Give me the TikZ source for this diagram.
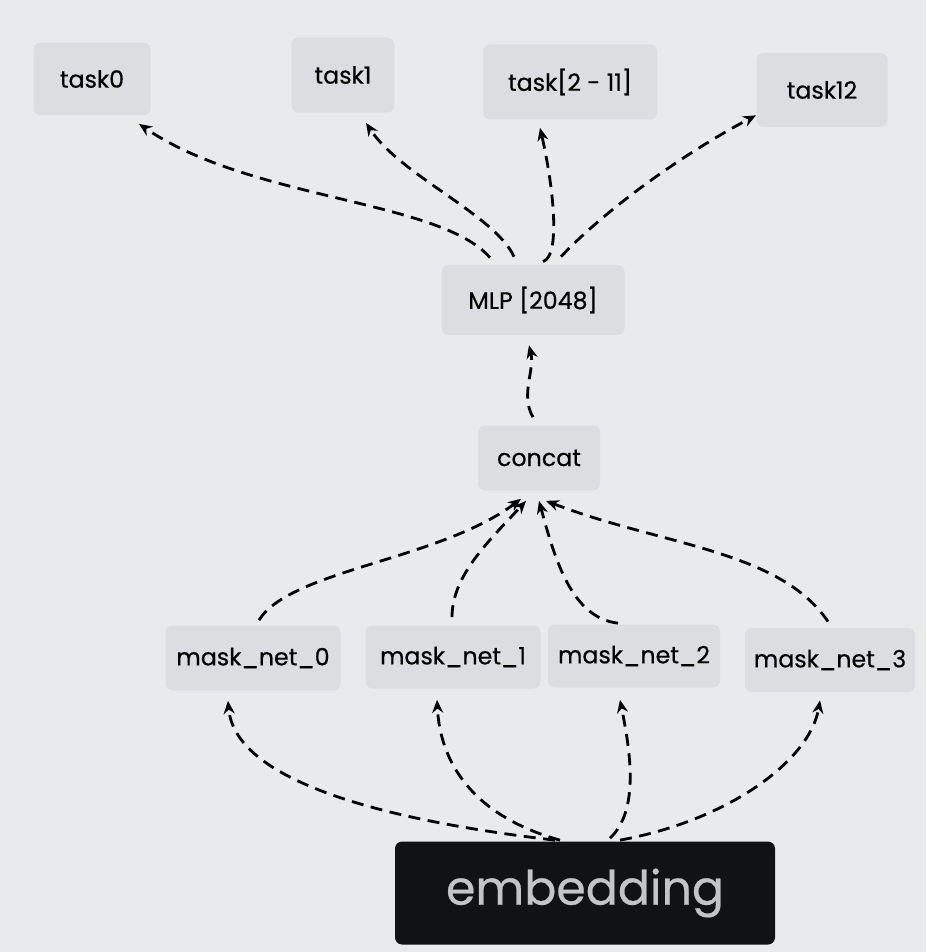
\documentclass[tikz,border=0pt]{standalone}
\usepackage{fontspec}
\setmainfont{Poppins}[UprightFeatures={FakeBold=0.5}]
\usepackage{tikz}
\usetikzlibrary{arrows.meta,positioning,calc}
\definecolor{screenbg}{RGB}{233,234,236}
\definecolor{softgrey}{RGB}{220,221,224}
\definecolor{darkbox}{RGB}{17,18,20}
\definecolor{paletext}{RGB}{196,196,198}

\begin{document}
\begin{tikzpicture}[
    x=0.02cm, y=-0.02cm,
    every node/.style={font=\fontsize{13.5}{16}\selectfont},
    box/.style={fill=softgrey, rounded corners=4pt, inner sep=0pt, align=center},
    link/.style={-{Stealth[length=2.6mm,width=2.2mm]}, line width=1.6pt, dash pattern=on 2.4mm off 1.5mm}
  ]
    \fill[screenbg] (0,0) rectangle (926,952);
    \useasboundingbox (0,0) rectangle (926,952);

    % top row
    \node[box, minimum width=117*0.02cm, minimum height=73*0.02cm] (task0) at (92,79) {task0};
    \node[box, minimum width=103*0.02cm, minimum height=75*0.02cm] (task1) at (343,75) {task1};
    \node[box, minimum width=174*0.02cm, minimum height=75*0.02cm] (tasks) at (570,82) {task[2 - 11]};
    \node[box, minimum width=131*0.02cm, minimum height=74*0.02cm] (task12) at (822,90) {task12};

    \node[box, minimum width=183*0.02cm, minimum height=70*0.02cm] (mlp) at (533,300) {MLP [2048]};
    \node[box, minimum width=122*0.02cm, minimum height=65*0.02cm] (concat) at (539,458) {concat};

    % mask nets
    \node[box, minimum width=175*0.02cm, minimum height=65*0.02cm] (mask0) at (253,658) {mask\_net\_0};
    \node[box, minimum width=175*0.02cm, minimum height=63*0.02cm] (mask1) at (453,657) {mask\_net\_1};
    \node[box, minimum width=172*0.02cm, minimum height=63*0.02cm] (mask2) at (634,656) {mask\_net\_2};
    \node[box, minimum width=170*0.02cm, minimum height=64*0.02cm] (mask3) at (830,660) {mask\_net\_3};

    \node[box, fill=darkbox, text=paletext, font=\fontsize{27}{32}\selectfont,
      minimum width=380*0.02cm, minimum height=103*0.02cm] (emb) at (585,893) {embedding};

    % mlp -> tasks
    \draw[link] ($(mlp.north)+(-43,-7)$) .. controls (440,200) and (250,200) .. ($(task0.south)+(47,8)$);
    \draw[link] ($(mlp.north)+(-19,-8)$) .. controls (495,215) and (400,175) .. ($(task1.south)+(23,10)$);
    \draw[link] ($(mlp.north)+(10,-3)$) .. controls (562,255) and (552,180) .. ($(tasks.south)+(-30,8)$);
    \draw[link] ($(mlp.north)+(28,-8)$) .. controls (610,205) and (690,150) .. ($(task12.south)+(-66,-12)$);

    \draw[link] ($(concat.north)+(-6,-8)$) .. controls (520,395) and (535,370) .. ($(mlp.south)+(-4,10)$);

    % mask nets -> concat
    \draw[link] ($(mask0.north)+(6,-5)$) .. controls (290,570) and (440,560) .. ($(concat.south)+(-18,8)$);
    \draw[link] ($(mask1.north)+(-1,-8)$) .. controls (452,575) and (490,540) .. ($(concat.south)+(-13,10)$);
    \draw[link] ($(mask2.north)+(-16,-1)$) .. controls (572,618) and (555,560) .. ($(concat.south)+(0,10)$);
    \draw[link] ($(mask3.north)+(-2,-6)$) .. controls (780,550) and (660,545) .. ($(concat.south)+(7,10)$);

    % embedding -> mask nets
    \draw[link] ($(emb.north)+(-30,-1)$) .. controls (380,820) and (235,780) .. ($(mask0.south)+(-25,10)$);
    \draw[link] ($(emb.north)+(-25,-1)$) .. controls (470,815) and (440,760) .. ($(mask1.south)+(-16,11)$);
    \draw[link] ($(emb.north)+(25,-3)$) .. controls (640,810) and (630,750) .. ($(mask2.south)+(-14,12)$);
    \draw[link] ($(emb.north)+(35,-1)$) .. controls (730,820) and (810,760) .. ($(mask3.south)+(-10,8)$);
\end{tikzpicture}
\end{document}
